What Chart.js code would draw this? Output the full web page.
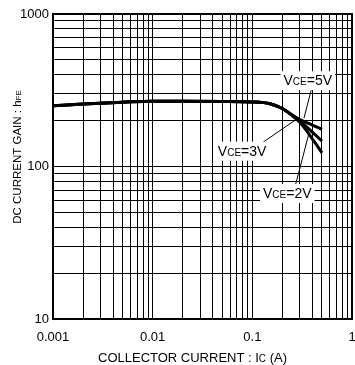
<!DOCTYPE html>
<html>
<head>
<meta charset="utf-8">
<script src="https://cdn.jsdelivr.net/npm/chart.js@4.4.1/dist/chart.umd.min.js"></script>
<style>
  html, body { margin: 0; padding: 0; background: #fff; overflow: hidden; }
  #wrap { width: 355px; height: 365px; position: relative; }
  canvas { display: block; }
</style>
</head>
<body>
<div id="wrap"><canvas id="gainChart"></canvas></div>
<script>
// collector current (A)
const current = [0.001, 0.002, 0.005, 0.01, 0.02, 0.05, 0.1, 0.15, 0.2, 0.25, 0.3, 0.4, 0.5]
// hFE per VCE
const gain5V = [250, 257, 264, 268, 268, 267, 265, 258, 240, 218, 203, 187, 175]
const gain3V = [250, 257, 264, 268, 268, 267, 265, 258, 240, 217, 199, 168, 147]
const gain2V = [250, 257, 264, 268, 268, 267, 265, 258, 240, 216, 195, 152, 123]
const decades = [0.001, 0.01, 0.1, 1]
const gainDecades = [10, 100, 1000]

// label anchors (data coords): text centre, leader start, leader end
const labels = [
  { v: '5V', at: [0.36, 368], from: [0.39, 318], to: [0.33, 208] },
  { v: '3V', at: [0.079, 127], from: [0.12, 140], to: [0.28, 205] },
  { v: '2V', at: [0.224, 67], from: [0.27, 75], to: [0.37, 165] },
]

const minorTicks = (lo, hi) => {
  const t = []
  for (let d = lo; d < hi; d *= 10) for (let k = 1; k < 10; k++) t.push({ value: +(d * k).toPrecision(3) })
  t.push({ value: hi })
  return t
}

const toPts = (ys) => current.map((x, i) => ({ x, y: ys[i] }))

const FONT = '"Liberation Sans", Arial, sans-serif'

function richWidth(ctx, parts) {
  let w = 0
  parts.forEach((p) => {
    ctx.font = p[1] + 'px ' + FONT
    w += ctx.measureText(p[0]).width
  })
  return w
}

function rich(ctx, parts, x, y) {
  let cx = x - richWidth(ctx, parts) / 2
  ctx.textAlign = 'left'
  ctx.textBaseline = 'alphabetic'
  parts.forEach((p) => {
    ctx.font = p[1] + 'px ' + FONT
    ctx.fillText(p[0], cx, y)
    cx += ctx.measureText(p[0]).width
  })
}

const overlay = {
  id: 'overlay',
  afterDatasetsDraw(chart) {
    const { ctx, chartArea: a, scales } = chart
    const px = (v) => scales.x.getPixelForValue(v)
    const py = (v) => scales.y.getPixelForValue(v)
    ctx.save()
    ctx.strokeStyle = '#000'
    labels.forEach((l) => {
      ctx.lineWidth = 1
      ctx.beginPath()
      ctx.moveTo(px(l.from[0]), py(l.from[1]))
      ctx.lineTo(px(l.to[0]), py(l.to[1]))
      ctx.stroke()
      const parts = [['V', 14], ['CE', 10], ['=' + l.v, 14]]
      const w = richWidth(ctx, parts)
      const cx = px(l.at[0])
      const cy = py(l.at[1])
      ctx.fillStyle = '#fff'
      ctx.fillRect(cx - w / 2 - 3, cy - 9, w + 6, 19)
      ctx.fillStyle = '#000'
      rich(ctx, parts, cx, cy + 5)
    })
    // frame
    ctx.lineWidth = 2
    ctx.strokeRect(a.left, a.top, a.right - a.left, a.bottom - a.top)
    // axis titles
    ctx.fillStyle = '#000'
    rich(ctx, [['COLLECTOR CURRENT : I', 13], ['C', 10], [' (A)', 13]], (a.left + a.right) / 2 - 10, 362)
    ctx.translate(20.5, 157)
    ctx.rotate(-Math.PI / 2)
    rich(ctx, [['DC CURRENT GAIN : h', 11.5], ['FE', 8]], 0, 0)
    ctx.restore()
  },
}

const line = (label, ys) => ({
  label,
  data: toPts(ys),
  borderColor: '#000',
  borderWidth: 3,
  pointRadius: 0,
  cubicInterpolationMode: 'monotone',
  fill: false,
})

const noPad = (s) => {
  s.paddingLeft = 0
  s.paddingRight = 0
  s.paddingTop = 0
  s.paddingBottom = 0
}

new Chart(document.getElementById('gainChart'), {
  type: 'line',
  data: {
    datasets: [line('VCE=5V', gain5V), line('VCE=3V', gain3V), line('VCE=2V', gain2V)],
  },
  options: {
    responsive: true,
    maintainAspectRatio: false,
    animation: false,
    layout: { padding: { top: 14, right: 3, left: 0, bottom: 0 } },
    plugins: { legend: { display: false }, tooltip: { enabled: false } },
    scales: {
      x: {
        type: 'logarithmic',
        min: 0.001,
        max: 1,
        afterBuildTicks: (s) => { s.ticks = minorTicks(0.001, 1) },
        afterFit: (s) => { s.height = 46; noPad(s) },
        grid: { color: '#000', lineWidth: 1, drawTicks: false },
        border: { display: false },
        ticks: {
          autoSkip: false,
          maxRotation: 0,
          padding: 11,
          color: '#000',
          font: { family: FONT, size: 13 },
          callback: (v) => (decades.includes(v) ? String(v) : ''),
        },
      },
      y: {
        type: 'logarithmic',
        min: 10,
        max: 1000,
        afterBuildTicks: (s) => { s.ticks = minorTicks(10, 1000) },
        afterFit: (s) => { s.width = 53; noPad(s) },
        grid: { color: '#000', lineWidth: 1, drawTicks: false },
        border: { display: false },
        ticks: {
          autoSkip: false,
          padding: 4,
          color: '#000',
          font: { family: FONT, size: 13 },
          callback: (v) => (gainDecades.includes(v) ? String(v) : ''),
        },
      },
    },
  },
  plugins: [overlay],
})
</script>
</body>
</html>
